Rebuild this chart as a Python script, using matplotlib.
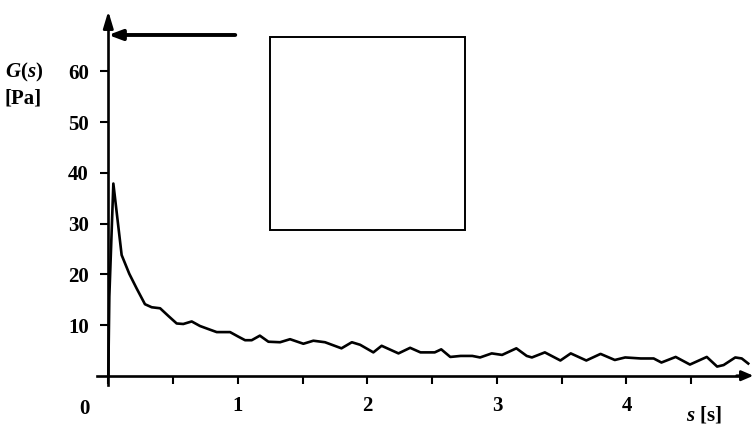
import matplotlib
matplotlib.use("Agg")
import matplotlib.pyplot as plt
from matplotlib.patches import Rectangle

plt.rcParams['font.family'] = ['Liberation Serif', 'DejaVu Serif']
plt.rcParams['font.weight'] = 'bold'
plt.rcParams['mathtext.fontset'] = 'custom'
plt.rcParams['mathtext.rm'] = 'Liberation Serif:bold'
plt.rcParams['mathtext.it'] = 'Liberation Serif:italic:bold'

# relaxation modulus G(s)
s = [0.0, 0.008, 0.039, 0.103, 0.162, 0.219, 0.283, 0.335, 0.40, 0.463, 0.528,
     0.579, 0.644, 0.708, 0.772, 0.837, 0.94, 1.004, 1.056, 1.107, 1.17, 1.236,
     1.326, 1.403, 1.506, 1.583, 1.673, 1.80, 1.88, 1.944, 2.046, 2.11, 2.24,
     2.33, 2.41, 2.52, 2.57, 2.64, 2.72, 2.81, 2.87, 2.96, 3.04, 3.15, 3.23,
     3.27, 3.37, 3.49, 3.57, 3.69, 3.80, 3.91, 3.99, 4.11, 4.21, 4.27, 4.38,
     4.49, 4.62, 4.70, 4.75, 4.84, 4.89, 4.94]
G = [0.0, 15.6, 37.9, 23.8, 20.1, 17.2, 14.1, 13.5, 13.3, 11.8, 10.3,
     10.2, 10.7, 9.8, 9.2, 8.6, 8.6, 7.7, 7.0, 7.0, 7.9, 6.7,
     6.6, 7.2, 6.3, 6.9, 6.6, 5.4, 6.6, 6.1, 4.6, 5.9, 4.4,
     5.5, 4.6, 4.6, 5.2, 3.7, 3.9, 3.9, 3.6, 4.4, 4.1, 5.4, 3.9,
     3.6, 4.6, 3.0, 4.4, 3.0, 4.3, 3.1, 3.6, 3.4, 3.4, 2.6, 3.7,
     2.2, 3.7, 1.8, 2.1, 3.6, 3.4, 2.4]

x_ticks = [0, 0.5, 1, 1.5, 2, 2.5, 3, 3.5, 4, 4.5]
x_labels = ['', '', '1', '', '2', '', '3', '', '4', '']
y_ticks = [10, 20, 30, 40, 50, 60]

level_G0 = 67.2          # plateau value marked by the arrow
box_xy = (1.25, 28.7)    # empty inset frame
box_w, box_h = 1.50, 38.2

fig = plt.figure(figsize=(7.56, 4.26), dpi=100)
ax = fig.add_axes([0, 0, 1, 1])
ax.set_xlim(-0.836, 5.0)
ax.set_ylim(-9.92, 74.1)

ax.plot(s, G, color='black', lw=1.9, solid_joinstyle='round')

# axes through the origin
for side in ['top', 'right']:
    ax.spines[side].set_visible(False)
ax.spines['left'].set_position(('data', 0))
ax.spines['bottom'].set_position(('data', 0))
ax.spines['left'].set_bounds(-1.8, 70)
ax.spines['bottom'].set_bounds(-0.09, 4.9)
ax.spines['left'].set_linewidth(1.9)
ax.spines['bottom'].set_linewidth(1.9)
ax.annotate('', xy=(0, 71.9), xytext=(0, 69),
            arrowprops=dict(arrowstyle='-|>,head_length=1.0,head_width=0.3',
                            color='black', lw=1.9, shrinkA=0, shrinkB=0))
ax.annotate('', xy=(4.98, 0), xytext=(4.85, 0),
            arrowprops=dict(arrowstyle='-|>,head_length=0.7,head_width=0.3',
                            color='black', lw=1.9, shrinkA=0, shrinkB=0))

ax.set_xticks(x_ticks, x_labels)
ax.set_yticks(y_ticks, [str(v) for v in y_ticks])
ax.tick_params(axis='x', direction='out', length=5.5, width=1.5, pad=9, labelsize=15)
ax.tick_params(axis='y', direction='out', length=6, width=1.5, pad=8, labelsize=15)

ax.text(-0.185, -6.6, '0', fontsize=15, ha='center', va='center')
ax.text(4.6, -7.8, r'$s$ [s]', fontsize=15, ha='center', va='center')
ax.text(-0.65, 59.9, r'$G(s)$', fontsize=15, ha='center', va='center')
ax.text(-0.655, 54.6, '[Pa]', fontsize=15, ha='center', va='center')

# arrow pointing at the plateau level
ax.annotate('', xy=(0.0, level_G0), xytext=(0.98, level_G0),
            arrowprops=dict(arrowstyle='-|>,head_length=0.8,head_width=0.3',
                            color='black', lw=2.8, shrinkA=0, shrinkB=0))

ax.add_patch(Rectangle(box_xy, box_w, box_h, fill=False, ec='black', lw=1.4))

fig.savefig('out.png', dpi=100)
